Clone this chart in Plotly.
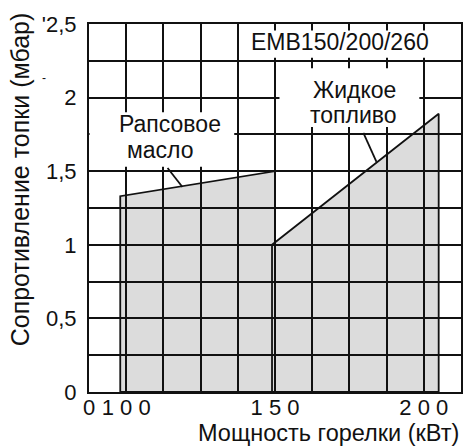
import plotly.graph_objects as go

# ---- data ----
rapeseed_x = [98, 98, 150, 150]
rapeseed_y = [0, 1.33, 1.5, 0]
oil_x = [149, 149, 205, 205]
oil_y = [0, 1.0, 1.89, 0]

x_tick_vals = [87.5, 100, 150, 200]
x_tick_text = ["0", "1 0 0", "1 5 0", "2 0 0"]
y_tick_vals = [0, 0.5, 1, 1.5, 2, 2.5]
y_tick_text = ["0", "0,5", "1", "1,5", "2", "'2,5"]

FONT = "Liberation Sans, Arial, sans-serif"
INK = "#111111"
FILL = "#dcdcdc"


def path_of(xs, ys):
    pts = " L ".join(f"{x},{y}" for x, y in zip(xs, ys))
    return f"M {pts} Z"


fig = go.Figure()

for xs, ys in [(rapeseed_x, rapeseed_y), (oil_x, oil_y)]:
    fig.add_trace(go.Scatter(
        x=xs + xs[:1], y=ys + ys[:1], mode="lines",
        line=dict(color=INK, width=1.8), hoverinfo="skip", showlegend=False))

shapes = []
# polygon fills below the grid
for xs, ys in [(rapeseed_x, rapeseed_y), (oil_x, oil_y)]:
    shapes.append(dict(type="path", path=path_of(xs, ys), xref="x", yref="y",
                       fillcolor=FILL, line=dict(width=0), layer="below"))
# white label backgrounds
for x0, x1, y0, y1 in [(138.8, 212.1, 2.27, 2.455),
                       (87.7, 136.3, 1.53, 1.90),
                       (151.5, 198.5, 1.80, 2.20)]:
    shapes.append(dict(type="rect", xref="x", yref="y", x0=x0, x1=x1, y0=y0, y1=y1,
                       fillcolor="white", line=dict(width=0), layer="above"))
# leader lines
for x0, y0, x1, y1 in [(113.9, 1.522, 118.9, 1.393), (179.7, 1.76, 184.1, 1.563)]:
    shapes.append(dict(type="line", xref="x", yref="y", x0=x0, y0=y0, x1=x1, y1=y1,
                       line=dict(color=INK, width=1.8), layer="above"))

ann_font = dict(family=FONT, size=23, color=INK)
annotations = [
    dict(text="EMB150/200/260", x=171.7, y=2.378, xref="x", yref="y",
         xanchor="center", yanchor="middle", showarrow=False, font=ann_font),
    dict(text="Рапсовое", x=96.9, y=1.82, xref="x", yref="y",
         xanchor="left", yanchor="middle", showarrow=False, font=ann_font),
    dict(text="масло", x=99.5, y=1.644, xref="x", yref="y",
         xanchor="left", yanchor="middle", showarrow=False, font=ann_font),
    dict(text="Жидкое", x=176.7, y=2.05, xref="x", yref="y",
         xanchor="center", yanchor="middle", showarrow=False, font=ann_font),
    dict(text="топливо", x=176.4, y=1.88, xref="x", yref="y",
         xanchor="center", yanchor="middle", showarrow=False, font=ann_font),
    dict(text="Сопротивление топки (мбар)", x=-0.1845, y=0.579, xref="paper", yref="paper",
         xanchor="center", yanchor="middle", textangle=-90, showarrow=False,
         font=dict(family=FONT, size=25, color=INK)),
    dict(text="Мощность горелки (кВт)", x=1.0, y=-0.112, xref="paper", yref="paper",
         xanchor="right", yanchor="middle", showarrow=False,
         font=dict(family=FONT, size=23.5, color=INK)),
    dict(text="-", x=-0.12, y=0.853, xref="paper", yref="paper",
         xanchor="center", yanchor="middle", showarrow=False,
         font=dict(family=FONT, size=12, color=INK)),
]

fig.update_layout(
    width=467, height=448,
    margin=dict(l=89, r=4, t=24, b=56),
    paper_bgcolor="white", plot_bgcolor="white",
    showlegend=False,
    shapes=shapes, annotations=annotations,
    xaxis=dict(range=[87.5, 212.5], tickmode="array", tickvals=x_tick_vals,
               ticktext=x_tick_text, ticks="", ticklabelstandoff=-5,
               tickfont=dict(family=FONT, size=22, color=INK),
               showline=True, mirror=True, linecolor=INK, linewidth=2,
               zeroline=False, fixedrange=True,
               showgrid=False,
               minor=dict(tick0=87.5, dtick=12.5, showgrid=True,
                          gridcolor=INK, gridwidth=1.8, ticks="")),
    yaxis=dict(range=[0, 2.5], tickmode="array", tickvals=y_tick_vals,
               ticktext=y_tick_text, ticks="", ticklabelstandoff=6,
               tickfont=dict(family=FONT, size=22, color=INK),
               showline=True, mirror=True, linecolor=INK, linewidth=2,
               zeroline=False, fixedrange=True,
               showgrid=True, gridcolor=INK, gridwidth=1.8,
               minor=dict(tick0=0, dtick=0.25, showgrid=True,
                          gridcolor=INK, gridwidth=1.8, ticks="")),
)

fig.write_html("out.html", config={"displayModeBar": False},
               post_script="document.body.style.margin='0';document.body.style.overflow='hidden';")
